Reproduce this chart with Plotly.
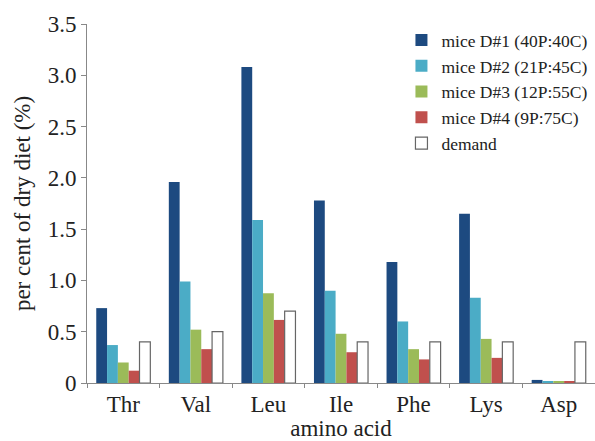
import plotly.graph_objects as go

categories = ["Thr", "Val", "Leu", "Ile", "Phe", "Lys", "Asp"]
series_names = ["mice D#1 (40P:40C)", "mice D#2 (21P:45C)", "mice D#3 (12P:55C)",
                "mice D#4 (9P:75C)", "demand"]
d1 = [0.73, 1.96, 3.08, 1.78, 1.18, 1.65, 0.03]
d2 = [0.37, 0.99, 1.59, 0.90, 0.60, 0.83, 0.015]
d3 = [0.20, 0.52, 0.875, 0.48, 0.33, 0.43, 0.01]
d4 = [0.12, 0.33, 0.615, 0.30, 0.23, 0.245, 0.01]
demand = [0.40, 0.50, 0.70, 0.40, 0.40, 0.40, 0.40]
ytick_vals = [0, 0.5, 1.0, 1.5, 2.0, 2.5, 3.0, 3.5]
ytick_text = ["0", "0.5", "1.0", "1.5", "2.0", "2.5", "3.0", "3.5"]

colors = ["#1d4a80", "#4bacc6", "#9bbb59", "#c0504d", "#ffffff"]
values = [d1, d2, d3, d4, demand]

fig = go.Figure()
for name, vals, col in zip(series_names, values, colors):
    is_demand = name == "demand"
    fig.add_trace(go.Bar(
        x=categories, y=vals, name=name,
        marker=dict(color=col,
                    line=dict(color="#666666" if is_demand else col,
                              width=1.2 if is_demand else 0)),
    ))

font_family = "Liberation Serif, Times New Roman, serif"
fig.update_layout(
    width=595, height=441,
    margin=dict(l=87, r=0, t=24, b=58),
    paper_bgcolor="white", plot_bgcolor="white",
    barmode="group", bargap=0.255, bargroupgap=0,
    font=dict(family=font_family, size=23, color="#222222"),
    showlegend=True,
    legend=dict(x=0.619, y=1.005, xanchor="left", yanchor="top",
                font=dict(size=17.5, family=font_family, color="#222222"),
                bgcolor="rgba(0,0,0,0)", tracegroupgap=0,
                itemwidth=30),
    xaxis=dict(
        title=dict(text="amino acid", font=dict(size=23), standoff=4),
        showline=True, linecolor="#888888", linewidth=1,
        ticks="outside", ticklen=4, tickcolor="#888888",
        tickson="boundaries", showgrid=False,
        tickfont=dict(size=23),
    ),
    yaxis=dict(
        title=dict(text="per cent of dry diet (%)", font=dict(size=23), standoff=10),
        range=[0, 3.5], tickvals=ytick_vals, ticktext=ytick_text,
        showline=True, linecolor="#888888", linewidth=1,
        ticks="outside", ticklen=5, tickcolor="#888888",
        showgrid=False, zeroline=False,
        tickfont=dict(size=23),
    ),
)

fig.write_html("out.html",
               config={"displayModeBar": False},
               post_script="document.body.style.margin='0';document.body.style.padding='0';")
